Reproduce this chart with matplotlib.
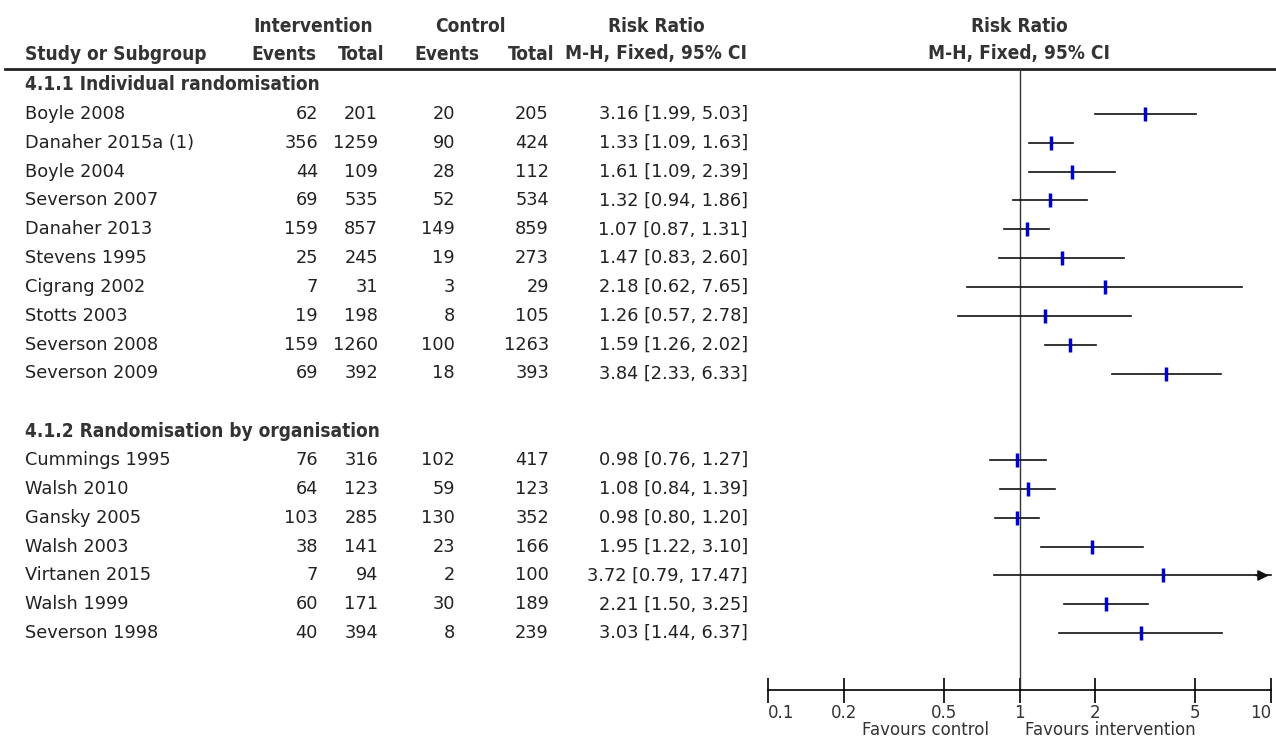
import matplotlib
matplotlib.use("Agg")
import matplotlib.pyplot as plt
import numpy as np

# --- data ---
studies_1 = ["Boyle 2008", "Danaher 2015a (1)", "Boyle 2004", "Severson 2007", "Danaher 2013",
             "Stevens 1995", "Cigrang 2002", "Stotts 2003", "Severson 2008", "Severson 2009"]
int_events_1 = [62, 356, 44, 69, 159, 25, 7, 19, 159, 69]
int_total_1 = [201, 1259, 109, 535, 857, 245, 31, 198, 1260, 392]
ctl_events_1 = [20, 90, 28, 52, 149, 19, 3, 8, 100, 18]
ctl_total_1 = [205, 424, 112, 534, 859, 273, 29, 105, 1263, 393]
rr_1 = [3.16, 1.33, 1.61, 1.32, 1.07, 1.47, 2.18, 1.26, 1.59, 3.84]
lo_1 = [1.99, 1.09, 1.09, 0.94, 0.87, 0.83, 0.62, 0.57, 1.26, 2.33]
hi_1 = [5.03, 1.63, 2.39, 1.86, 1.31, 2.60, 7.65, 2.78, 2.02, 6.33]

studies_2 = ["Cummings 1995", "Walsh 2010", "Gansky 2005", "Walsh 2003", "Virtanen 2015",
             "Walsh 1999", "Severson 1998"]
int_events_2 = [76, 64, 103, 38, 7, 60, 40]
int_total_2 = [316, 123, 285, 141, 94, 171, 394]
ctl_events_2 = [102, 59, 130, 23, 2, 30, 8]
ctl_total_2 = [417, 123, 352, 166, 100, 189, 239]
rr_2 = [0.98, 1.08, 0.98, 1.95, 3.72, 2.21, 3.03]
lo_2 = [0.76, 0.84, 0.80, 1.22, 0.79, 1.50, 1.44]
hi_2 = [1.27, 1.39, 1.20, 3.10, 17.47, 3.25, 6.37]

ticks = [0.1, 0.2, 0.5, 1, 2, 5, 10]
tick_labels = ["0.1", "0.2", "0.5", "1", "2", "5", "10"]

W, H = 1276, 738
body = ["DejaVu Sans"]
head = dict(family=["DejaVu Sans"], stretch="condensed", weight="bold", color="#333333", fontsize=13.7)
fs = 12.8
tc = "#222222"

fig = plt.figure(figsize=(W / 100, H / 100), dpi=100)
# text layer in pixel coordinates
tx = fig.add_axes([0, 0, 1, 1])
tx.set_xlim(0, W)
tx.set_ylim(H, 0)
tx.axis("off")

row0, dy = 85, 28.85


def rowy(k):
    return row0 + dy * k


# headers
tx.text(313, 26, "Intervention", ha="center", va="center", **head)
tx.text(470, 26, "Control", ha="center", va="center", **head)
tx.text(656, 26, "Risk Ratio", ha="center", va="center", **head)
tx.text(1019, 26, "Risk Ratio", ha="center", va="center", **head)
tx.text(25, 54, "Study or Subgroup", ha="left", va="center", **head)
for x, s in [(284, "Events"), (361, "Total"), (447, "Events"), (531, "Total"),
             (656, "M-H, Fixed, 95% CI"), (1019, "M-H, Fixed, 95% CI")]:
    tx.text(x, 54, s, ha="center", va="center", **head)
tx.plot([5, W], [69, 69], color="#222222", lw=2.0)

groups = [
    ("4.1.1 Individual randomisation", studies_1, int_events_1, int_total_1, ctl_events_1, ctl_total_1, rr_1, lo_1, hi_1),
    ("4.1.2 Randomisation by organisation", studies_2, int_events_2, int_total_2, ctl_events_2, ctl_total_2, rr_2, lo_2, hi_2),
]

# forest axes: x log scale 0.1..10 between px 768 and 1271, rows mapped onto pixel rows
ax_top, ax_bot = 69, 690
ax = fig.add_axes([768 / W, 1 - ax_bot / H, (1271 - 768) / W, (ax_bot - ax_top) / H])
ax.set_xscale("log")
ax.set_xlim(0.1, 10)
ax.set_ylim((ax_bot - row0) / dy, (ax_top - row0) / dy)
ax.patch.set_alpha(0)
for s in ["top", "right", "left"]:
    ax.spines[s].set_visible(False)
ax.spines["bottom"].set_linewidth(1.2)
ax.set_yticks([])
ax.set_xticks(ticks)
ax.set_xticklabels(tick_labels, fontsize=12, family=body, color="#333333")
ax.xaxis.set_minor_locator(matplotlib.ticker.NullLocator())
ax.tick_params(axis="x", direction="inout", length=18, width=1.2, pad=1)
labs = ax.get_xticklabels()
labs[0].set_ha("left")
labs[-1].set_ha("right")
ax.axvline(1, color="#333333", lw=1.0)

k = 0
for title, names, ie, it, ce, ct, rr, lo, hi in groups:
    tx.text(25, rowy(k), title, ha="left", va="center", **head)
    k += 1
    for i in range(len(names)):
        y = rowy(k)
        tx.text(25, y, names[i], ha="left", va="center", family=body, fontsize=fs, color=tc)
        tx.text(318, y, str(ie[i]), ha="right", va="center", family=body, fontsize=fs, color=tc)
        tx.text(378, y, str(it[i]), ha="right", va="center", family=body, fontsize=fs, color=tc)
        tx.text(455, y, str(ce[i]), ha="right", va="center", family=body, fontsize=fs, color=tc)
        tx.text(549, y, str(ct[i]), ha="right", va="center", family=body, fontsize=fs, color=tc)
        tx.text(748, y, "%.2f [%.2f, %.2f]" % (rr[i], lo[i], hi[i]), ha="right", va="center",
                family=body, fontsize=fs, color=tc)
        upper = min(hi[i], 10)
        ax.plot([lo[i], upper], [k, k], color="#111111", lw=1.2, clip_on=False)
        if hi[i] > 10:
            ax.annotate("", xy=(10.05, k), xytext=(8.5, k),
                        arrowprops=dict(arrowstyle="-|>", color="#111111", lw=1.2, mutation_scale=16),
                        annotation_clip=False)
        ax.plot([rr[i]], [k], marker="|", markersize=10, mew=2.5, color="#0000cc", clip_on=False)
        k += 1
    k += 1

tx.text(925, 730, "Favours control", ha="center", va="center", family=body, fontsize=12, color="#333333")
tx.text(1110, 730, "Favours intervention", ha="center", va="center", family=body, fontsize=12, color="#333333")

fig.savefig("out.png", dpi=100)
